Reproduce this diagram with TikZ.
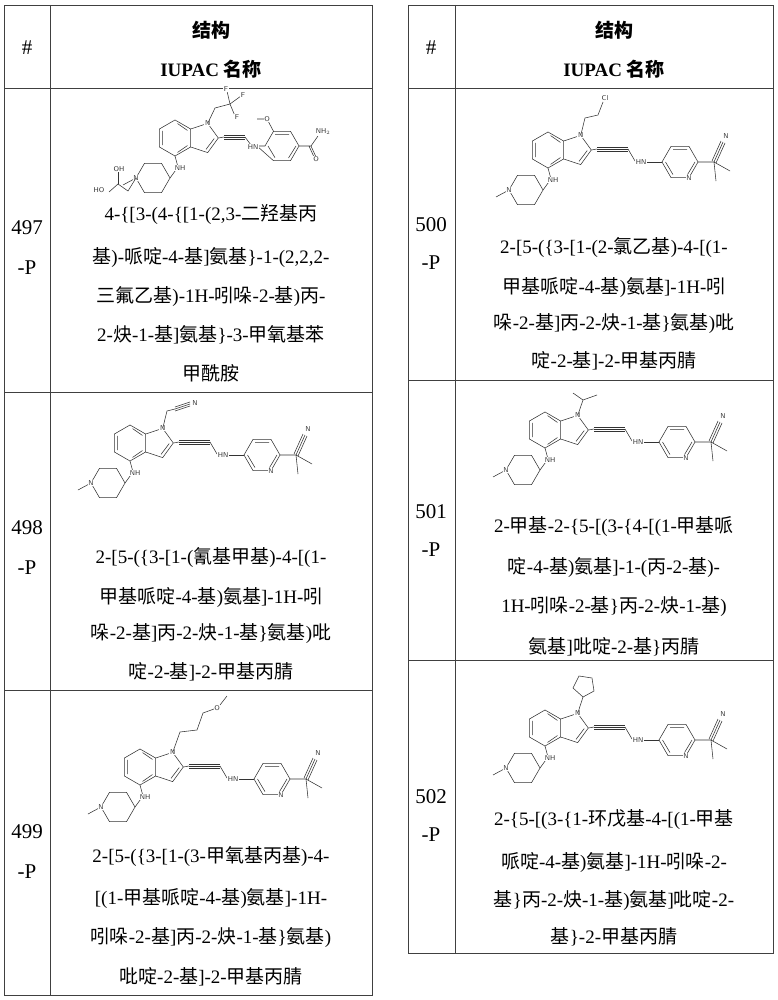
\documentclass[tikz,border=0pt]{standalone}
\usepackage{fontspec}
\setmainfont{Liberation Serif}
\newfontfamily\cjk{Noto Sans CJK SC}
\newcommand\zh[1]{{\cjk #1}}
\tikzset{
  bondline/.style={line width=0.55pt,black!80},
  atomlbl/.style={font=\sffamily\fontsize{7}{7}\selectfont,inner sep=0.6pt,fill=white,text=black!80},
  nametxt/.style={font=\fontsize{19}{19}\selectfont,inner sep=0pt,anchor=center},
  numtxt/.style={font=\fontsize{21}{21}\selectfont,inner sep=0pt},
  hdrtxt/.style={font=\bfseries\fontsize{19}{19}\selectfont,inner sep=0pt},
  gridline/.style={line width=0.8pt,black!75}}
\newcommand\indolepart{%
  \draw[bondline] (0,18)--(15.6,9)--(15.6,-9)--(0,-18)--(-15.6,-9)--(-15.6,9)--cycle;
  \draw[bondline] (-12.4,7.2)--(-12.4,-7.2) (2.6,-14.4)--(12.4,-7.6) (2.6,14.4)--(12.4,7.6);
  \draw[bondline] (15.6,9)--(32.7,14.6)--(43.3,0)--(32.7,-14.6)--(15.6,-9);
  \draw[bondline] (39.2,-0.6)--(31,-11.4);
  \draw[bondline] (0,-18)--(3,-29);
  \draw[bondline] (3,-29)--(-5,-40);
  \draw[bondline] (-5,-40)--(-13.5,-25.3)--(-30.5,-25.3)--(-39,-40)--(-30.5,-54.7)--(-13.5,-54.7)--cycle;
  \draw[bondline] (-39,-40)--(-52,-47);
  \node[atomlbl] (nh) at (5,-30) {NH};
  \node[atomlbl] (npip) at (-39,-40) {N};
  \node[atomlbl] (n1) at (32.7,14.6) {N};
}
\newcommand\pyrpart{%
  \draw[bondline] (43.3,0)--(49,1);
  \draw[bondline] (49,1)--(80,1) (49,3)--(80,3) (49,-1)--(80,-1);
  \draw[bondline] (80,1)--(87,-11);
  \draw[bondline] (96,-12)--(114,-12);
  \draw[bondline] (114,-12)--(123,3.6)--(141,3.6)--(150,-12)--(141,-27.6)--(123,-27.6)--cycle;
  \draw[bondline] (125,0.6)--(139,0.6) (147,-12)--(139.5,-24.6) (125,-24.6)--(117.5,-12);
  \draw[bondline] (150,-12)--(166,-12)--(168,-31) (166,-12)--(182,-21);
  \draw[bondline] (166,-12)--(175,8) (168,-13)--(177,7) (164,-11)--(173,9);
  \node[atomlbl] (hn) at (93,-12) {HN};
  \node[atomlbl] (npy) at (141,-27.6) {N};
  \node[atomlbl] (ncn) at (178,14) {N};
}
\begin{document}
\begin{tikzpicture}[x=1pt,y=-1pt]
\useasboundingbox (0,0) rectangle (777,1000);
\fill[white] (0,0) rectangle (777,1000);
% ---------- tables
\draw[gridline] (4,5) rectangle (372,995);
\draw[gridline] (50,5) -- (50,995);
\foreach \yy in {88,392,690} \draw[gridline] (4,\yy) -- (372,\yy);
\draw[gridline] (408,5) rectangle (773,953);
\draw[gridline] (455,5) -- (455,953);
\foreach \yy in {88,380,660} \draw[gridline] (408,\yy) -- (773,\yy);
% headers
\node[numtxt] (hashL) at (27,48) {\#};
\node[hdrtxt] (jgL) at (211,30) {\zh{结构}};
\node[hdrtxt] (iuL) at (211,69) {IUPAC \zh{名称}};
\node[numtxt] (hashR) at (431,48) {\#};
\node[hdrtxt] (jgR) at (614,30) {\zh{结构}};
\node[hdrtxt] (iuR) at (614,69) {IUPAC \zh{名称}};
% ---------- 497
\begin{scope}[shift={(175,138)},yscale=-1]
  \indolepart
  \draw[bondline] (43.3,0)--(49,1);
  \draw[bondline] (49,1)--(70,1) (49,3)--(70,3) (49,-1)--(70,-1);
  \draw[bondline] (70,1)--(76,-7);
  \draw[bondline] (82,-8)--(90,-8)--(98.5,6.7)--(115.5,6.7)--(124,-8)--(115.5,-22.7)--(98.5,-22.7)--cycle;
  \draw[bondline] (100,3.7)--(114,3.7) (121,-8)--(113.5,-20) (100,-19.7)--(93,-8);
  \draw[bondline] (98.5,6.7)--(92,19)--(82,19);
  \draw[bondline] (124,-8)--(136,-8)--(143,2) (136,-8)--(141,-19) (134,-8)--(139,-19);
  \node[atomlbl] (hn497) at (78,-9) {HN};
  \node[atomlbl] (o1) at (92,19) {O};
  \node[atomlbl] (nh2) at (148,6) {NH$_2$};
  \node[atomlbl] (o2) at (141,-21) {O};
  \draw[bondline] (32.7,14.6)--(40,30)--(55,34);
  \draw[bondline] (55,34)--(52,47) (55,34)--(66,42) (55,34)--(60,22);
  \node[atomlbl] (f1) at (51,49) {F};
  \node[atomlbl] (f2) at (68,43) {F};
  \node[atomlbl] (f3) at (62,21) {F};
  \draw[bondline] (-39,-40)--(-47,-53)--(-57,-46)--(-66,-54);
  \draw[bondline] (-57,-46)--(-57,-34);
  \node[atomlbl] (oh) at (-56,-31) {OH};
  \node[atomlbl] (ho) at (-76,-52) {HO};
\end{scope}
% ---------- 498
\begin{scope}[shift={(130,443)},yscale=-1]
  \indolepart \pyrpart
  \draw[bondline] (32.7,14.6)--(37,32)--(45,34);
  \draw[bondline] (45,34)--(60,39) (45,36)--(60,41) (45,32)--(60,37);
  \node[atomlbl] (ncn2) at (65,40) {N};
\end{scope}
% ---------- 499
\begin{scope}[shift={(140,767)},yscale=-1]
  \indolepart \pyrpart
  \draw[bondline] (32.7,14.6)--(40,35)--(57,37)--(63,54)--(74,58);
  \draw[bondline] (80,62)--(87,71);
  \node[atomlbl] (ome) at (77,59) {O};
\end{scope}
% ---------- 500
\begin{scope}[shift={(548,150)},yscale=-1]
  \indolepart \pyrpart
  \draw[bondline] (32.7,14.6)--(37,32)--(50,35)--(55,48);
  \node[atomlbl] (cl) at (57,52) {Cl};
\end{scope}
% ---------- 501
\begin{scope}[shift={(545,430)},yscale=-1]
  \indolepart \pyrpart
  \draw[bondline] (32.7,14.6)--(38,30)--(28,37) (38,30)--(52,35);
\end{scope}
% ---------- 502
\begin{scope}[shift={(545,728)},yscale=-1]
  \indolepart \pyrpart
  \draw[bondline] (32.7,14.6)--(38,31);
  \draw[bondline] (38,31)--(49,37)--(47,50)--(34,52)--(28,40)--cycle;
\end{scope}
% ---------- numbers
\node[numtxt] (na) at (27,228) {497}; \node[numtxt] (pa) at (27,268) {-P};
\node[numtxt] (nb) at (27,528) {498}; \node[numtxt] (pb) at (27,568) {-P};
\node[numtxt] (nc) at (27,832) {499}; \node[numtxt] (pc) at (27,872) {-P};
\node[numtxt] (nd) at (431,225) {500}; \node[numtxt] (pd) at (431,263) {-P};
\node[numtxt] (ne) at (431,512) {501}; \node[numtxt] (pe) at (431,550) {-P};
\node[numtxt] (nf) at (431,797) {502}; \node[numtxt] (pf) at (431,835) {-P};
% ---------- names
\node[nametxt] (t497a) at (211,215) {4-\{[3-(4-\{[1-(2,3-\zh{二羟基丙}};
\node[nametxt] (t497b) at (211,257) {\zh{基})-\zh{哌啶}-4-\zh{基}]\zh{氨基}\}-1-(2,2,2-};
\node[nametxt] (t497c) at (211,297) {\zh{三氟乙基})-1H-\zh{吲哚}-2-\zh{基})\zh{丙}-};
\node[nametxt] (t497d) at (211,335) {2-\zh{炔}-1-\zh{基}]\zh{氨基}\}-3-\zh{甲氧基苯}};
\node[nametxt] (t497e) at (211,373) {\zh{甲酰胺}};
\node[nametxt] (t498a) at (211,557) {2-[5-(\{3-[1-(\zh{氰基甲基})-4-[(1-};
\node[nametxt] (t498b) at (211,597) {\zh{甲基哌啶}-4-\zh{基})\zh{氨基}]-1H-\zh{吲}};
\node[nametxt] (t498c) at (211,634) {\zh{哚}-2-\zh{基}]\zh{丙}-2-\zh{炔}-1-\zh{基}\}\zh{氨基})\zh{吡}};
\node[nametxt] (t498d) at (211,672) {\zh{啶}-2-\zh{基}]-2-\zh{甲基丙腈}};
\node[nametxt] (t499a) at (211,857) {2-[5-(\{3-[1-(3-\zh{甲氧基丙基})-4-};
\node[nametxt] (t499b) at (211,898) {[(1-\zh{甲基哌啶}-4-\zh{基})\zh{氨基}]-1H-};
\node[nametxt] (t499c) at (211,938) {\zh{吲哚}-2-\zh{基}]\zh{丙}-2-\zh{炔}-1-\zh{基}\}\zh{氨基})};
\node[nametxt] (t499d) at (211,977) {\zh{吡啶}-2-\zh{基}]-2-\zh{甲基丙腈}};
\node[nametxt] (t500a) at (614,248) {2-[5-(\{3-[1-(2-\zh{氯乙基})-4-[(1-};
\node[nametxt] (t500b) at (614,287) {\zh{甲基哌啶}-4-\zh{基})\zh{氨基}]-1H-\zh{吲}};
\node[nametxt] (t500c) at (614,324) {\zh{哚}-2-\zh{基}]\zh{丙}-2-\zh{炔}-1-\zh{基}\}\zh{氨基})\zh{吡}};
\node[nametxt] (t500d) at (614,361) {\zh{啶}-2-\zh{基}]-2-\zh{甲基丙腈}};
\node[nametxt] (t501a) at (614,527) {2-\zh{甲基}-2-\{5-[(3-\{4-[(1-\zh{甲基哌}};
\node[nametxt] (t501b) at (614,567) {\zh{啶}-4-\zh{基})\zh{氨基}]-1-(\zh{丙}-2-\zh{基})-};
\node[nametxt] (t501c) at (614,607) {1H-\zh{吲哚}-2-\zh{基}\}\zh{丙}-2-\zh{炔}-1-\zh{基})};
\node[nametxt] (t501d) at (614,647) {\zh{氨基}]\zh{吡啶}-2-\zh{基}\}\zh{丙腈}};
\node[nametxt] (t502a) at (614,820) {2-\{5-[(3-\{1-\zh{环戊基}-4-[(1-\zh{甲基}};
\node[nametxt] (t502b) at (614,862) {\zh{哌啶}-4-\zh{基})\zh{氨基}]-1H-\zh{吲哚}-2-};
\node[nametxt] (t502c) at (614,900) {\zh{基}\}\zh{丙}-2-\zh{炔}-1-\zh{基})\zh{氨基}]\zh{吡啶}-2-};
\node[nametxt] (t502d) at (614,937) {\zh{基}\}-2-\zh{甲基丙腈}};
\end{tikzpicture}
\end{document}
